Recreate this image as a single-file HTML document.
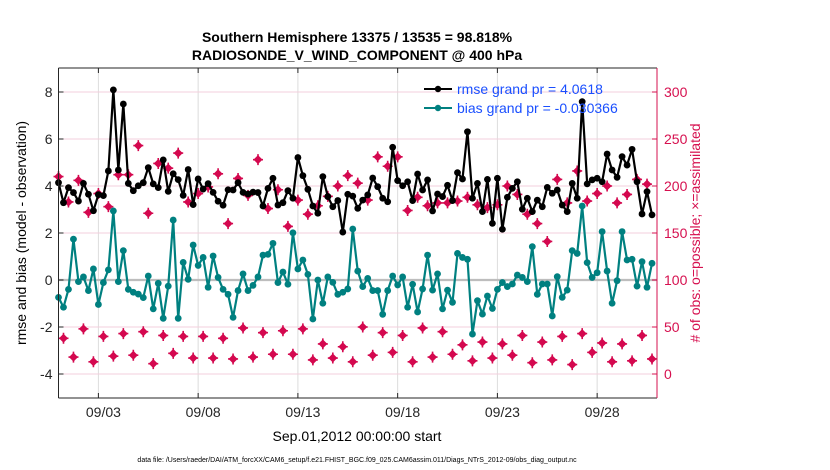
<!DOCTYPE html>
<html><head><meta charset="utf-8">
<style>
body{margin:0;background:#fff;}
svg{display:block;font-family:"Liberation Sans",Arial,sans-serif;}
</style></head>
<body>
<svg id="chart" width="830" height="470" viewBox="0 0 830 470">
<rect width="830" height="470" fill="#fff"/>
<text x="357" y="42" text-anchor="middle" font-size="14" font-weight="bold">Southern Hemisphere 13375 / 13535 = 98.818%</text>
<text x="357" y="60" text-anchor="middle" font-size="14" font-weight="bold">RADIOSONDE_V_WIND_COMPONENT @ 400 hPa</text>
<g id="grid"></g>
<g id="marks"></g>
<g id="axes"></g>
<text transform="translate(26,233) rotate(-90)" text-anchor="middle" font-size="14">rmse and bias (model - observation)</text>
<text transform="translate(700,233) rotate(-90)" text-anchor="middle" font-size="14" fill="#d6104f"># of obs: o=possible; ×=assimilated</text>
<text x="357" y="441" text-anchor="middle" font-size="14">Sep.01,2012 00:00:00 start</text>
<text x="357" y="462" text-anchor="middle" font-size="7">data file: /Users/raeder/DAI/ATM_forcXX/CAM6_setup/f.e21.FHIST_BGC.f09_025.CAM6assim.011/Diags_NTrS_2012-09/obs_diag_output.nc</text>
<g>
<line x1="424" y1="89" x2="452" y2="89" stroke="#000" stroke-width="2"/>
<circle cx="438" cy="89" r="3.2" fill="#000"/>
<text x="457" y="94" font-size="14" fill="#1a4fff">rmse grand pr = 4.0618</text>
<line x1="424" y1="108" x2="452" y2="108" stroke="#008080" stroke-width="2"/>
<circle cx="438" cy="108" r="3.2" fill="#008080"/>
<text x="457" y="113" font-size="14" fill="#1a4fff">bias grand pr = -0.030366</text>
</g>
</svg>
<script>
const rmse=[4.14,3.29,3.93,3.72,3.36,4.11,3.65,2.95,3.63,3.59,4.64,8.09,4.68,7.49,4.11,3.80,4.01,4.14,4.78,4.09,3.93,5.11,3.77,4.52,4.27,3.60,4.70,3.21,4.30,3.87,4.10,3.73,3.35,3.18,3.84,3.83,4.14,3.73,3.66,3.74,3.72,3.15,
3.90,4.33,3.19,3.29,3.80,3.48,5.21,4.44,3.86,3.15,2.84,4.40,3.55,3.12,3.38,2.04,3.65,3.57,3.05,3.40,3.62,4.34,3.97,3.48,3.33,5.65,4.23,4.01,4.18,3.38,4.51,3.83,4.26,2.94,3.66,3.55,4.03,3.38,4.57,4.30,
6.31,3.48,4.11,2.91,4.28,2.41,4.33,2.16,3.52,3.90,4.18,3.01,3.48,2.91,3.40,3.12,3.94,3.69,3.83,3.19,2.91,4.11,3.48,7.59,4.09,4.26,4.33,4.18,5.36,4.68,4.37,5.25,4.89,5.56,4.18,2.81,3.76,2.77];
const bias=[-0.74,-1.16,-0.40,1.74,-0.07,0.13,-0.45,0.47,-1.04,-0.11,0.43,2.94,-0.07,1.25,-0.40,-0.52,-0.60,-0.75,0.17,-1.23,-0.14,-1.63,-0.26,2.55,-1.63,0.75,0.03,1.49,0.62,0.96,-0.31,1.02,0.11,-0.40,-0.61,-1.59,-0.45,0.26,-0.45,-0.23,0.13,1.06,
1.09,1.56,-0.11,0.34,-0.18,2.01,0.47,0.85,0.24,-1.66,0,-0.99,0.13,-0.10,-0.61,-0.52,-0.38,2.17,0.38,-0.28,0.07,-0.45,-0.45,-1.46,-0.45,0.17,-0.21,0.13,-1.16,-0.18,-1.36,-0.38,1.06,-0.43,0.26,-1.23,-0.43,-0.95,1.13,0.96,
0.88,-2.30,-0.88,-1.45,-0.68,-1.21,-0.40,-0.11,-0.28,-0.17,0.21,0.11,-0.07,1.42,-0.61,-0.17,-0.17,-1.53,0.14,-0.74,-0.43,1.25,1.13,3.15,0.74,0.11,0.31,2.06,0.38,-0.99,-0.03,2.06,0.85,0.88,-0.26,0.78,-0.31,0.71];
const obsHigh=[210,183,206,172,192,178,212,212,243,171,224,219,235,183,192,199,213,160,208,190,228,
176,196,157,185,170,179,189,200,211,203,185,231,221,231,174,188,179,182,182,184,
188,180,177,180,200,191,170,160,141,207,182,216,184,192,200,182,191,207,202];
const obsLow=[38,18,48,13,40,19,43,20,45,11,41,22,40,17,40,17,38,16,49,18,44,
21,46,21,48,15,32,17,29,13,50,20,44,23,41,13,49,18,45,21,31,
14,34,17,32,20,41,12,34,15,40,10,43,23,33,13,32,14,41,16];
const xTickDays=[2,7,12,17,22,27];
const xTickLabels=["09/03","09/08","09/13","09/18","09/23","09/28"];
const yTicks=[-4,-2,0,2,4,6,8];
const y2Ticks=[0,50,100,150,200,250,300];

const NS="http://www.w3.org/2000/svg";
const L=58.5,R=657,T=68,B=398;
const xDay=d=>L+(d/30)*(R-L);
const xIdx=i=>xDay(i*0.25);
const yL=v=>280-23.5*v;
const yR=n=>yL(-4+n/25);
function mk(tag,attrs,parent){const e=document.createElementNS(NS,tag);for(const k in attrs)e.setAttribute(k,attrs[k]);parent.appendChild(e);return e;}
const grid=document.getElementById('grid'),marks=document.getElementById('marks'),axes=document.getElementById('axes');

xTickDays.forEach(d=>{const l=mk('line',{x1:xDay(d),x2:xDay(d),y1:T,y2:B,stroke:'#dcdcdc','stroke-width':1},grid);

});
y2Ticks.forEach(n=>{const l=mk('line',{x1:L,x2:R,y1:yR(n),y2:yR(n),stroke:'#f3cfdc','stroke-width':1},grid);

});
const zl=mk('line',{x1:L,x2:R,y1:yL(0),y2:yL(0),stroke:'#bdbdbd','stroke-width':2.2},grid);



function obsMark(x,y,name){const g=mk('g',{},marks);


mk('path',{d:`M${x} ${y-4.5}L${x+4.5} ${y}L${x} ${y+4.5}L${x-4.5} ${y}Z`,fill:'#d4084f'},g);
mk('path',{d:`M${x-5} ${y}H${x+5}M${x} ${y-5.5}V${y+5.5}`,stroke:'#d4084f','stroke-width':1.6},g);}
obsHigh.forEach((n,k)=>obsMark(xIdx(2*k),yR(n),'obs-count-00-12z'));
obsLow.forEach((n,k)=>obsMark(xIdx(2*k+1),yR(n),'obs-count-06-18z'));

function series(vals,color,name){const g=mk('g',{},marks);


mk('polyline',{points:vals.map((v,i)=>xIdx(i)+','+yL(v)).join(' '),fill:'none',stroke:color,'stroke-width':2.2,'stroke-linejoin':'round'},g);
vals.forEach((v,i)=>{const c=mk('circle',{cx:xIdx(i),cy:yL(v),r:3.4,fill:color},g);

});}
series(bias,'#008080','bias-series');
series(rmse,'#000','rmse-series');

mk('line',{x1:L,x2:R,y1:T,y2:T,stroke:'#262626'},axes);
mk('line',{x1:L,x2:R,y1:B,y2:B,stroke:'#262626'},axes);
const ly=mk('line',{x1:L,x2:L,y1:T,y2:B,stroke:'#262626'},axes);


const ry=mk('line',{x1:R,x2:R,y1:T,y2:B,stroke:'#d6104f'},axes);


xTickDays.forEach((d,k)=>{mk('line',{x1:xDay(d),x2:xDay(d),y1:B,y2:B-5,stroke:'#262626'},axes);
mk('line',{x1:xDay(d),x2:xDay(d),y1:T,y2:T+5,stroke:'#262626'},axes);
const t=mk('text',{x:xDay(d)+5,y:B+19,'text-anchor':'middle','font-size':14,fill:'#262626'},axes);
t.textContent=xTickLabels[k];

});
yTicks.forEach(v=>{mk('line',{x1:L,x2:L+5,y1:yL(v),y2:yL(v),stroke:'#262626'},axes);
const t=mk('text',{x:L-6,y:yL(v)+5,'text-anchor':'end','font-size':14,fill:'#262626'},axes);
t.textContent=v;

});
y2Ticks.forEach(n=>{mk('line',{x1:R,x2:R-5,y1:yR(n),y2:yR(n),stroke:'#d6104f'},axes);
const t=mk('text',{x:R+7,y:yR(n)+5,'font-size':14,fill:'#d6104f'},axes);
t.textContent=n;

});
</script>
</body></html>
